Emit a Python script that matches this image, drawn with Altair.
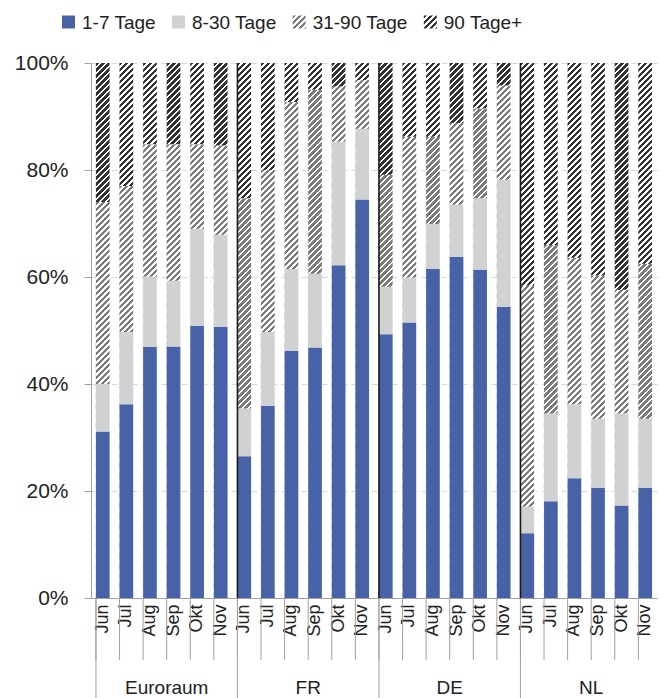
import math
import altair as alt

# ---------------- data ----------------
groups = ["Euroraum", "FR", "DE", "NL"]
months = ["Jun", "Jul", "Aug", "Sep", "Okt", "Nov"]
series = ["1-7 Tage", "8-30 Tage", "31-90 Tage", "90 Tage+"]

share_1_7 = [31.1, 36.2, 46.9, 47.0, 50.9, 50.7,
             26.5, 35.9, 46.2, 46.8, 62.2, 74.5,
             49.3, 51.5, 61.5, 63.8, 61.3, 54.4,
             12.1, 18.1, 22.4, 20.6, 17.3, 20.6]
share_8_30 = [8.9, 13.5, 13.2, 12.3, 18.1, 17.2,
              8.9, 13.8, 15.3, 13.8, 23.1, 13.2,
              8.9, 8.4, 8.4, 9.7, 13.4, 23.8,
              5.0, 16.4, 13.8, 12.9, 17.2, 12.9]
share_31_90 = [34.0, 27.3, 24.7, 25.5, 15.8, 16.7,
               39.3, 30.3, 31.2, 34.4, 10.3, 9.1,
               20.9, 26.3, 16.3, 15.3, 16.8, 17.6,
               41.3, 31.5, 27.4, 26.8, 23.1, 29.0]
share_90p = [26.0, 23.0, 15.2, 15.2, 15.2, 15.4,
             25.3, 20.0, 7.3, 5.0, 4.4, 3.2,
             20.9, 13.8, 13.8, 11.2, 8.5, 4.2,
             41.6, 34.0, 36.4, 39.7, 42.4, 37.5]
y_ticks = [0, 20, 40, 60, 80, 100]

# ---------------- layout / style ----------------
W, H = 566, 535
PAD_L, PAD_T = 91, 63
PAD_INNER = 0.42
BLUE = "#4862A8"
LGRAY = "#D0D1D3"
STRIPE_MID = "#7A7A7A"
STRIPE_DARK = "#333333"
FONT = "Liberation Sans"
TXT = "#222222"


def stripes(color, w, h, period=6.0, duty=0.55):
    """Diagonal '/' hatch as a hard-stop linear gradient (bbox units)."""
    L = w + h
    T = period / L
    k = (w + h) / (w * w + h * h)
    stops = []
    n = int(math.ceil(1 / T)) + 1
    for i in range(n):
        t0, t1, t2 = i * T, i * T + duty * T, (i + 1) * T
        if t0 > 1:
            break
        stops += [{"offset": min(t0, 1), "color": color},
                  {"offset": min(t1, 1), "color": color},
                  {"offset": min(t1, 1), "color": "#FFFFFF"},
                  {"offset": min(t2, 1), "color": "#FFFFFF"}]
    return {"gradient": "linear", "x1": 0, "y1": 0,
            "x2": k * w, "y2": k * h, "stops": stops}


def fill_for(s_idx, w, h):
    if s_idx == 0:
        return BLUE
    if s_idx == 1:
        return LGRAY
    if s_idx == 2:
        return stripes(STRIPE_MID, w, h)
    return stripes(STRIPE_DARK, w, h)


keys = [f"{g}|{m}" for g in groups for m in months]
bar_w = W / len(keys) * (1 - PAD_INNER)

rows = []
all_series = [share_1_7, share_8_30, share_31_90, share_90p]
for i, key in enumerate(keys):
    base = 0.0
    for s_idx, vals in enumerate(all_series):
        v = vals[i]
        rows.append({"key": key, "series": series[s_idx], "y0": base, "y1": base + v,
                     "fill": fill_for(s_idx, bar_w, v * H / 100.0)})
        base += v

key_rows = [{"key": k} for k in keys]
group_start_rows = [{"key": f"{g}|{months[0]}"} for g in groups]
inner_sep_rows = [{"key": f"{g}|{months[0]}"} for g in groups[1:]]
group_label_rows = [{"key": f"{g}|{months[3]}", "label": g} for g in groups]

# legend layout (simulated horizontal legend)
ARIAL = {"0": .556, "1": .556, "2": .556, "3": .556, "4": .556, "5": .556, "6": .556,
         "7": .556, "8": .556, "9": .556, "-": .333, " ": .278, "T": .611, "a": .556,
         "g": .556, "e": .556, "+": .584}
LEG_FS, SYM, SYM_GAP, ITEM_GAP, LEG_X0 = 19, 13, 7, 14, 62
legend_rows = []
x = LEG_X0
for s_idx, lab in enumerate(series):
    tw = sum(ARIAL.get(c, .556) for c in lab) * LEG_FS
    legend_rows.append({"label": lab, "sx": x + SYM / 2 - PAD_L, "tx": x + SYM + SYM_GAP - PAD_L,
                        "fill": fill_for(s_idx, SYM, SYM)})
    x += SYM + SYM_GAP + tw + ITEM_GAP

# ---------------- chart ----------------
x_axis = alt.Axis(labelExpr="split(datum.label, '|')[1]", labelAngle=-90, labelFontSize=18,
                  labelFont=FONT, labelColor=TXT, labelPadding=6, ticks=False, grid=False,
                  domain=True, domainColor="#A0A0A0", title=None)
x_scale = alt.Scale(domain=keys, paddingInner=PAD_INNER, paddingOuter=PAD_INNER / 2)


def xk(band=None):
    if band is None:
        return alt.X("key:N", sort=keys, scale=x_scale, axis=x_axis)
    return alt.X("key:N", sort=keys, scale=x_scale, axis=x_axis, bandPosition=band)


vgrid = alt.Chart(alt.Data(values=key_rows)).mark_rule(
    color="#D9D9D9", strokeWidth=1, strokeDash=[6, 4]
).encode(x=xk(0), y=alt.value(0), y2=alt.value(H))

bars = alt.Chart(alt.Data(values=rows)).mark_bar().encode(
    x=xk(),
    y=alt.Y("y0:Q", scale=alt.Scale(domain=[0, 100], nice=False),
            axis=alt.Axis(values=y_ticks, labelExpr="datum.value + '%'", labelFontSize=21,
                          labelFont=FONT, labelColor=TXT, tickSize=7, tickColor="#A0A0A0",
                          domainColor="#A0A0A0", labelPadding=16, grid=True,
                          gridColor="#D9D9D9", gridDash=[6, 4], title=None)),
    y2="y1:Q",
    fill=alt.Fill("fill:N", scale=None),
)

sep_black = alt.Chart(alt.Data(values=inner_sep_rows)).mark_rule(
    color="#1A1A1A", strokeWidth=1.6
).encode(x=xk(0), y=alt.value(0), y2=alt.value(H))

sep_month = alt.Chart(alt.Data(values=key_rows)).mark_rule(
    color="#A0A0A0", strokeWidth=1
).encode(x=xk(0), y=alt.value(H), y2=alt.value(H + 62))

sep_group = alt.Chart(alt.Data(values=group_start_rows)).mark_rule(
    color="#A0A0A0", strokeWidth=1
).encode(x=xk(0), y=alt.value(H), y2=alt.value(H + 100))

group_text = alt.Chart(alt.Data(values=group_label_rows)).mark_text(
    fontSize=19, font=FONT, color=TXT, baseline="middle", align="center"
).encode(x=xk(0), y=alt.value(H + 90), text="label:N")

leg_sym = alt.Chart(alt.Data(values=legend_rows)).mark_square(
    size=SYM * SYM, opacity=1, filled=True
).encode(x=alt.X("sx:Q", scale=None), y=alt.value(-41), fill=alt.Fill("fill:N", scale=None))

leg_txt = alt.Chart(alt.Data(values=legend_rows)).mark_text(
    fontSize=LEG_FS, font=FONT, color=TXT, align="left", baseline="middle"
).encode(x=alt.X("tx:Q", scale=None), y=alt.value(-40), text="label:N")

chart = alt.layer(vgrid, bars, sep_black, sep_month, sep_group, group_text, leg_sym, leg_txt).properties(
    width=W, height=H,
    padding={"left": PAD_L, "top": PAD_T, "right": 660 - PAD_L - W, "bottom": 698 - PAD_T - H},
    autosize=alt.AutoSizeParams(type="none"),
    background="#FFFFFF",
).configure_view(stroke=None)

chart.save("out.html", embed_options={"renderer": "svg", "actions": False})
